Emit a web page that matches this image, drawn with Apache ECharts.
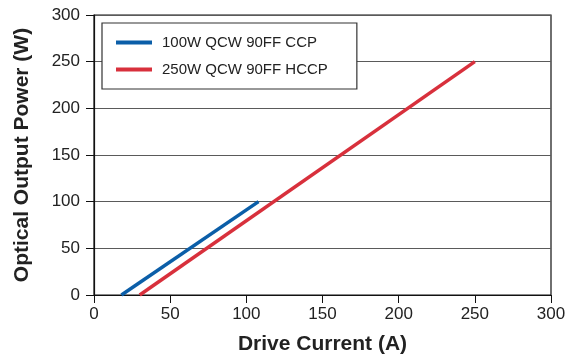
<!DOCTYPE html>
<html>
<head>
<meta charset="utf-8">
<script src="https://cdn.jsdelivr.net/npm/echarts@6/dist/echarts.min.js"></script>
<style>
  html, body { margin: 0; padding: 0; background: #fff; }
  #chart { width: 573px; height: 360px; }
</style>
</head>
<body>
<div id="chart"></div>
<script>
// series names and the end points
var seriesNames = ['100W QCW 90FF CCP', '250W QCW 90FF HCCP'];
var ccpCurrent = [18, 108];
var ccpPower = [0, 100];
var hccpCurrent = [30, 250];
var hccpPower = [0, 250];
var xTicks = [0, 50, 100, 150, 200, 250, 300];
var yTicks = [0, 50, 100, 150, 200, 250, 300];

function pairs(xs, ys) {
	return xs.map(function(x, i) { return [x, ys[i]]; });
}

var font = 'Liberation Sans, Arial, Helvetica, sans-serif';
var chart = echarts.init(document.getElementById('chart'));

chart.setOption({
	animation: false,
	backgroundColor: '#fff',
	grid: {
		left: 94, top: 15, width: 457, height: 282,
		show: true, borderColor: '#111', borderWidth: 1.2
	},
	legend: {
		orient: 'vertical',
		left: 102, top: 23,
		padding: [12, 29, 12, 14],
		itemGap: 12,
		itemWidth: 36, itemHeight: 4,
		icon: 'rect',
		backgroundColor: '#fff',
		borderColor: '#333', borderWidth: 1.2,
		textStyle: { fontFamily: font, fontSize: 15, color: '#222', lineHeight: 15, padding: [0, 0, 0, 5] },
		data: seriesNames
	},
	xAxis: {
		type: 'value',
		min: xTicks[0], max: xTicks[xTicks.length - 1], interval: 50,
		name: 'Drive Current (A)',
		nameLocation: 'middle', nameGap: 39,
		nameTextStyle: { fontFamily: font, fontSize: 21, fontWeight: 'bold', color: '#222' },
		axisLine: { lineStyle: { color: '#111', width: 1.2 } },
		axisTick: { show: true, length: 8, lineStyle: { color: '#111' } },
		axisLabel: { fontFamily: font, fontSize: 17, color: '#222', margin: 11 },
		splitLine: { show: false }
	},
	yAxis: {
		type: 'value',
		min: yTicks[0], max: yTicks[yTicks.length - 1], interval: 50,
		name: 'Optical Output Power (W)',
		nameLocation: 'middle', nameGap: 61,
		nameTextStyle: { fontFamily: font, fontSize: 21, fontWeight: 'bold', color: '#222' },
		axisLine: { show: true, lineStyle: { color: '#111', width: 1.2 } },
		axisTick: { show: true, length: 8, lineStyle: { color: '#111' } },
		axisLabel: { fontFamily: font, fontSize: 17, color: '#222', margin: 14 },
		splitLine: { show: true, lineStyle: { color: '#5a5a5a', width: 1.2 } }
	},
	series: [
		{
			name: seriesNames[0], type: 'line',
			data: pairs(ccpCurrent, ccpPower),
			showSymbol: false, color: '#0b5ea8',
			lineStyle: { width: 3.5, color: '#0b5ea8' }
		},
		{
			name: seriesNames[1], type: 'line',
			data: pairs(hccpCurrent, hccpPower),
			showSymbol: false, color: '#d8303c',
			lineStyle: { width: 3.5, color: '#d8303c' }
		}
	]
});
</script>
</body>
</html>
